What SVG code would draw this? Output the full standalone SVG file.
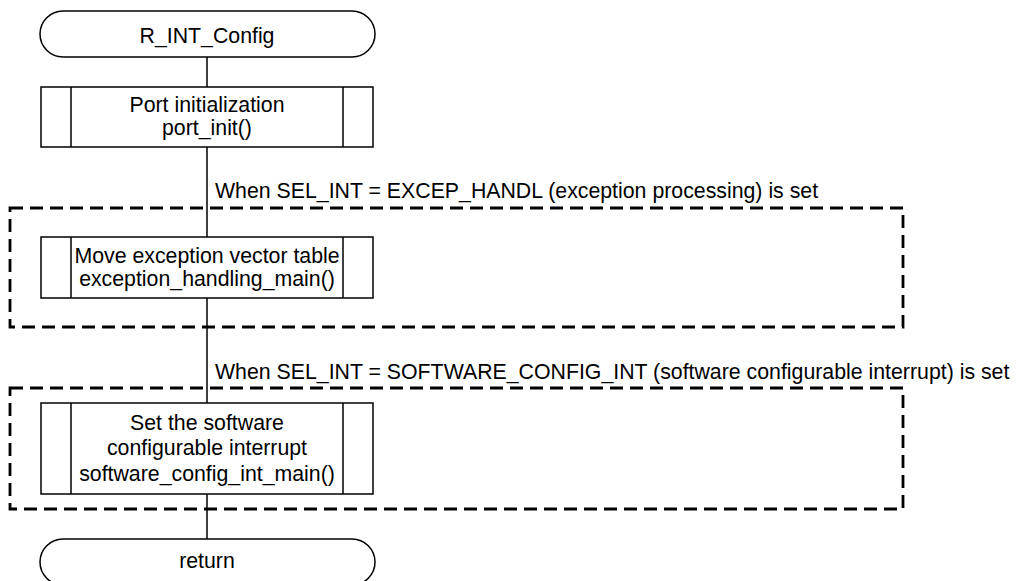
<svg xmlns="http://www.w3.org/2000/svg" width="1016" height="581" viewBox="0 0 1016 581">
<style>
.t{font-family:"Liberation Sans",Arial,sans-serif;font-size:21.3px;fill:#000;text-anchor:middle}
.l{font-family:"Liberation Sans",Arial,sans-serif;font-size:21.3px;fill:#000}
.s{fill:#fff;stroke:#000;stroke-width:1.5}
.d{fill:none;stroke:#000;stroke-width:2.8;stroke-dasharray:13 7}
.c{fill:none;stroke:#000;stroke-width:1.5}
</style>
<rect width="1016" height="581" fill="#fff"/>
<g id="connectors">
<line class="c" x1="207" y1="57" x2="207" y2="539"/>
</g>
<g id="group1">
<rect class="d" x="10" y="208" width="893" height="119"/>
<text class="l" x="215" y="198">When SEL_INT = EXCEP_HANDL (exception processing) is set</text>
</g>
<g id="group2">
<rect class="d" x="10" y="388" width="893" height="121"/>
<text class="l" x="215" y="379">When SEL_INT = SOFTWARE_CONFIG_INT (software configurable interrupt) is set</text>
</g>
<g id="start">
<rect class="s" x="40" y="11" width="335" height="46" rx="23"/>
<text class="t" x="207" y="43">R_INT_Config</text>
</g>
<g id="port_init">
<rect class="s" x="41" y="87" width="332" height="60"/>
<line class="c" x1="71" y1="87" x2="71" y2="147"/>
<line class="c" x1="343" y1="87" x2="343" y2="147"/>
<text class="t" x="207" y="112">Port initialization</text>
<text class="t" x="207" y="135">port_init()</text>
</g>
<g id="exception_handling">
<rect class="s" x="41" y="237" width="332" height="61"/>
<line class="c" x1="71" y1="237" x2="71" y2="298"/>
<line class="c" x1="343" y1="237" x2="343" y2="298"/>
<text class="t" x="207" y="263">Move exception vector table</text>
<text class="t" x="207" y="286">exception_handling_main()</text>
</g>
<g id="software_config">
<rect class="s" x="41" y="403" width="332" height="91"/>
<line class="c" x1="71" y1="403" x2="71" y2="494"/>
<line class="c" x1="343" y1="403" x2="343" y2="494"/>
<text class="t" x="207" y="430">Set the software</text>
<text class="t" x="207" y="455">configurable interrupt</text>
<text class="t" x="207" y="481">software_config_int_main()</text>
</g>
<g id="return">
<rect class="s" x="40" y="539" width="335" height="46" rx="23"/>
<text class="t" x="207" y="568">return</text>
</g>
</svg>
